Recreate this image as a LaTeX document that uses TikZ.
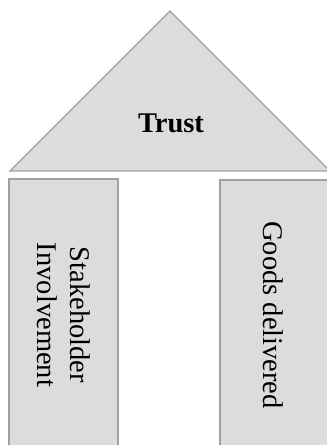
\documentclass[tikz,border=0pt]{standalone}
\usepackage{fontspec}
\setmainfont{Liberation Serif}
\definecolor{pillarfill}{RGB}{220,220,220}
\definecolor{pillarline}{RGB}{160,160,160}

\begin{document}
\begin{tikzpicture}[x=1pt,y=1pt]
    \useasboundingbox (0,0) rectangle (327,445);
    \clip (0,0) rectangle (327,445);

    \coordinate (roofL) at (10,274);
    \coordinate (roofR) at (330,274);
    \coordinate (roofT) at (170,434);

    \coordinate (P1) at (9,-5);
    \coordinate (P2) at (220,-5);

    \filldraw[color=pillarline, fill=pillarfill, line width=1.4pt, line join=miter] (roofL) -- (roofT) -- (roofR) -- cycle;
    \node (trust) at (171,322) [font=\fontsize{28.5}{33}\selectfont\bfseries] {Trust};

    \filldraw[color=pillarline, fill=pillarfill, line width=1.4pt](P1) rectangle +(109,271) node {};
    \node (stake) [rotate=-90, align=center, font=\fontsize{28.5}{33}\selectfont] at (64,130) {Stakeholder\\Involvement};

    \filldraw[color=pillarline, fill=pillarfill, line width=1.4pt](P2) rectangle +(112,270) node {};
    \node (goods) [rotate=-90, font=\fontsize{28.5}{33}\selectfont] at (273,130) {Goods delivered};

  \end{tikzpicture}
\end{document}
